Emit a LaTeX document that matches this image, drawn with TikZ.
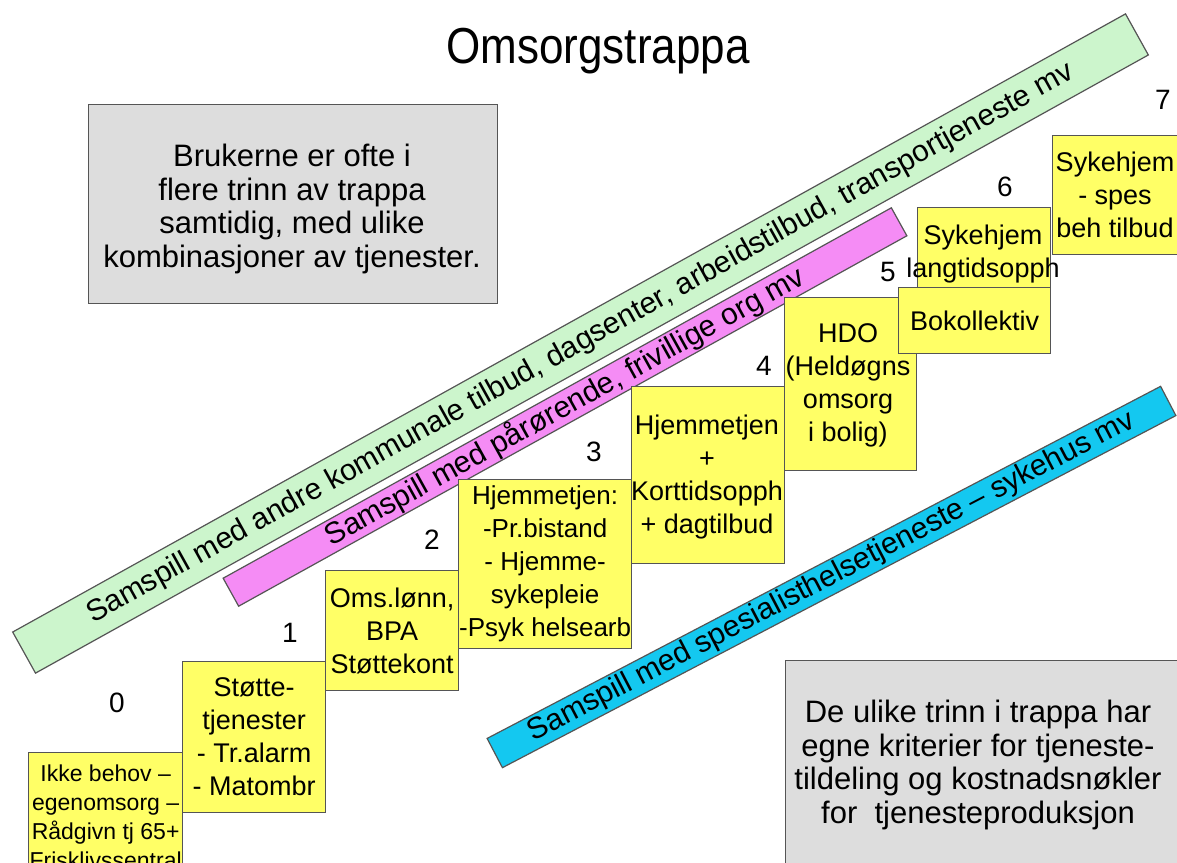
\documentclass[tikz,border=0pt]{standalone}
\usepackage{fontspec}
\setmainfont{Liberation Sans}
\definecolor{stepyellow}{RGB}{255,255,102}
\definecolor{bgreen}{RGB}{204,245,204}
\definecolor{bmag}{RGB}{245,140,245}
\definecolor{bcyan}{RGB}{20,200,240}
\definecolor{graybox}{RGB}{221,221,221}
\definecolor{edgec}{RGB}{85,85,85}
\begin{document}
\begin{tikzpicture}[x=1pt,y=-1pt,
  stepbox/.style={draw=edgec, line width=1.3pt, fill=stepyellow, inner sep=0pt, anchor=north west},
  steptext/.style={inner sep=0pt, align=center, font=\fontsize{27}{33}\selectfont},
  stepnum/.style={inner sep=0pt, font=\fontsize{28}{32}\selectfont},
  banner/.style={draw=edgec, line width=1.2pt, inner sep=0pt},
  bannertxt/.style={inner sep=0pt, font=\fontsize{30}{36}\selectfont},
  infobox/.style={draw=edgec, line width=1.3pt, fill=graybox, inner sep=0pt, anchor=north west},
  infotext/.style={inner sep=0pt, align=center, font=\fontsize{31}{33.5}\selectfont}]
\useasboundingbox (0,0) rectangle (1177,862);
\clip (0,0) rectangle (1177,862);
\fill[white] (0,0) rectangle (1177,862);

% title
\node[inner sep=0pt, anchor=base, font=\fontsize{44}{50}\selectfont, yscale=1.15, transform shape] (title) at (598,63) {Omsorgstrappa};

% info boxes
\node[infobox, minimum width=409pt, minimum height=199pt] (info1) at (88,104) {};
\node[infotext] (info1t) at (292,209) {Brukerne er ofte i\\flere trinn av trappa\\samtidig, med ulike\\kombinasjoner av tjenester.};
\node[infobox, minimum width=400pt, minimum height=215pt] (info2) at (785,660) {};
\node[infotext] (info2t) at (978,765) {De ulike trinn i trappa har\\egne kriterier for tjeneste-\\tildeling og kostnadsnøkler\\for\ \ tjenesteproduksjon};

% banners
\node[banner, fill=bgreen, minimum width=1273pt, minimum height=47pt, rotate=29.05] (gb) at (580.5,343.5) {};
\node[bannertxt, rotate=29.05] (gbt) at (gb.center) {Samspill med andre kommunale tilbud, dagsenter, arbeidstilbud, transportjeneste mv};
\node[banner, fill=bmag, minimum width=764pt, minimum height=32pt, rotate=29.0] (mb) at (565,407) {};
\node[bannertxt, rotate=29.0] (mbt) at (mb.center) {Samspill med pårørende, frivillige org mv};
\node[banner, fill=bcyan, minimum width=760pt, minimum height=33pt, rotate=27.6] (cb) at (831.5,577) {};
\node[bannertxt, rotate=27.6] (cbt) at (cb.center) {Samspill med spesialisthelsetjeneste – sykehus mv};

% steps
\node[stepbox, minimum width=154pt, minimum height=128pt] (s0) at (28,752) {};
\node[steptext, font=\fontsize{23}{29}\selectfont] (t0) at (s0.center) {Ikke behov –\\egenomsorg –\\Rådgivn tj 65+\\Frisklivssentral};
\node[stepbox, minimum width=143pt, minimum height=151pt] (s1) at (182,661) {};
\node[steptext] (t1) at (s1.center) {Støtte-\\tjenester\\- Tr.alarm\\- Matombr};
\node[stepbox, minimum width=133pt, minimum height=120pt] (s2) at (325,570) {};
\node[steptext] (t2) at (s2.center) {Oms.lønn,\\BPA\\Støttekont};
\node[stepbox, minimum width=173pt, minimum height=169pt] (s3) at (458,479) {};
\node[steptext, font=\fontsize{26}{33}\selectfont] (t3) at (s3.center) {Hjemmetjen:\\-Pr.bistand\\- Hjemme-\\sykepleie\\-Psyk helsearb};
\node[stepbox, minimum width=153pt, minimum height=177pt] (s4) at (631,386) {};
\node[steptext] (t4) at (707,477) {Hjemmetjen\\+\\Korttidsopph\\+ dagtilbud};
\node[stepbox, minimum width=132pt, minimum height=173pt] (s5) at (784,297) {};
\node[steptext] (t5) at (848,385) {HDO\\(Heldøgns\\omsorg\\i bolig)};
\node[stepbox, minimum width=133pt, minimum height=80pt] (s6a) at (917,207) {};
\node[steptext] (t6a) at (983,254) {Sykehjem\\langtidsopph};
\node[stepbox, minimum width=152pt, minimum height=66pt] (s6b) at (898,287) {};
\node[steptext] (t6b) at (s6b.center) {Bokollektiv};
\node[stepbox, minimum width=130pt, minimum height=119pt] (s7) at (1052,135) {};
\node[steptext] (t7) at (1115,195) {Sykehjem\\- spes\\beh tilbud};

% step numbers
\node[stepnum] (n0) at (117,703) {0};
\node[stepnum] (n1) at (290,633) {1};
\node[stepnum] (n2) at (432,540) {2};
\node[stepnum] (n3) at (594,452) {3};
\node[stepnum] (n4) at (764,366) {4};
\node[stepnum] (n5) at (888,272) {5};
\node[stepnum] (n6) at (1005,187) {6};
\node[stepnum] (n7) at (1163,100) {7};
\end{tikzpicture}
\end{document}
